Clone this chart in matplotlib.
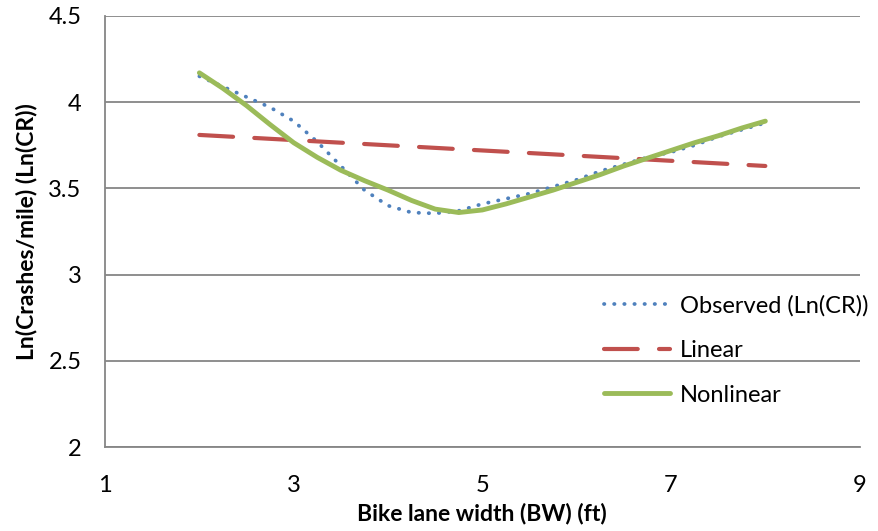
import numpy as np
import matplotlib as mpl
mpl.use('Agg')
import matplotlib.pyplot as plt

plt.rcParams['font.family'] = ['Lato', 'DejaVu Sans']

# values
bw_obs = [2.0, 2.25, 2.5, 2.75, 3.0, 3.25, 3.5, 3.75, 4.0, 4.25, 4.5, 4.75, 5.0,
          5.25, 5.5, 5.75, 6.0, 6.25, 6.5, 6.75, 7.0, 7.25, 7.5, 7.75, 8.0]
ln_cr_obs = [4.15, 4.09, 4.03, 3.97, 3.89, 3.77, 3.63, 3.49, 3.40, 3.36, 3.355, 3.37, 3.41,
             3.44, 3.47, 3.51, 3.55, 3.60, 3.64, 3.68, 3.71, 3.75, 3.80, 3.84, 3.88]
ln_cr_nonlin = [4.17, 4.08, 3.98, 3.87, 3.765, 3.68, 3.605, 3.545, 3.49, 3.43, 3.38, 3.36, 3.375,
                3.41, 3.45, 3.49, 3.535, 3.58, 3.63, 3.675, 3.72, 3.765, 3.805, 3.85, 3.89]
bw_lin = [2, 3, 4, 5, 6, 7, 8]
ln_cr_lin = [3.81, 3.78, 3.75, 3.72, 3.69, 3.66, 3.63]

xticks = [1, 3, 5, 7, 9]
yticks = [2, 2.5, 3, 3.5, 4, 4.5]
ytick_labels = ['2', '2.5', '3', '3.5', '4', '4.5']

fig = plt.figure(figsize=(8.79, 5.31), dpi=100)
ax = fig.add_axes([0.1195, 0.158, 0.8585, 0.812])

ax.plot(bw_obs, ln_cr_obs, color='#4F81BD', lw=2.7, linestyle=(0, (0.1, 2.6)),
        dash_capstyle='round', label='Observed (Ln(CR))', zorder=3)
ax.plot(bw_lin, ln_cr_lin, color='#C0504D', lw=3, linestyle=(0, (8.1, 5.1)),
        dash_capstyle='round', label='Linear', zorder=3)
ax.plot(bw_obs, ln_cr_nonlin, color='#9BBB59', lw=3.5, solid_capstyle='round',
        solid_joinstyle='round', label='Nonlinear', zorder=4)

ax.set_xlim(1, 9)
ax.set_ylim(2, 4.5)
ax.set_xticks(xticks)
ax.set_yticks(yticks)
ax.set_yticklabels(ytick_labels)
ax.tick_params(axis='both', length=0, labelsize=17)
ax.tick_params(axis='x', pad=20)
ax.tick_params(axis='y', pad=17)
ax.yaxis.grid(True, color='#868686', lw=1.3)
ax.set_axisbelow(True)
for s in ['top', 'right']:
    ax.spines[s].set_visible(False)
for s in ['left', 'bottom']:
    ax.spines[s].set_color('#868686')
    ax.spines[s].set_linewidth(1.3)

ax.set_xlabel('Bike lane width (BW) (ft)', fontsize=16.5, fontweight='bold', labelpad=5)
ax.set_ylabel('Ln(Crashes/mile) (Ln(CR))', fontsize=16.5, fontweight='bold', labelpad=8)

ax.legend(loc='upper left', bbox_to_anchor=(0.661, 0.353), frameon=False, fontsize=17,
          handlelength=2.8, handletextpad=0.42, labelspacing=1.0,
          borderpad=0, borderaxespad=0)

plt.savefig('out.png', dpi=100)
plt.close()
